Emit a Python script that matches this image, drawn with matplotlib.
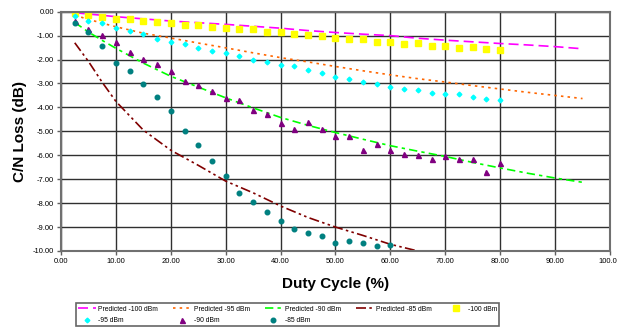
import numpy as np
import matplotlib
matplotlib.use('Agg')
import matplotlib.pyplot as plt
from matplotlib.ticker import FormatStrFormatter

plt.rcParams['font.family'] = ['Liberation Sans', 'DejaVu Sans']
plt.rcParams['axes.unicode_minus'] = False

#MEASURED DATA (duty cycle in %, C/N loss in dB)
duty = [2.5, 5, 7.5, 10, 12.5, 15, 17.5, 20, 22.5, 25, 27.5, 30, 32.5, 35, 37.5, 40,
        42.5, 45, 47.5, 50, 52.5, 55, 57.5, 60, 62.5, 65, 67.5, 70, 72.5, 75, 77.5, 80]
loss_100 = [-0.07, -0.14, -0.21, -0.29, -0.30, -0.37, -0.43, -0.48, -0.54, -0.57, -0.64, -0.68,
            -0.72, -0.73, -0.83, -0.86, -0.93, -0.96, -1.00, -1.10, -1.15, -1.14, -1.25, -1.28,
            -1.33, -1.32, -1.42, -1.44, -1.51, -1.48, -1.55, -1.61]
loss_95 = [-0.17, -0.37, -0.48, -0.67, -0.80, -0.94, -1.14, -1.28, -1.36, -1.50, -1.64, -1.73,
           -1.86, -2.00, -2.10, -2.22, -2.29, -2.43, -2.58, -2.72, -2.82, -2.92, -3.03, -3.14,
           -3.23, -3.29, -3.39, -3.43, -3.43, -3.57, -3.65, -3.68]
loss_90 = [-0.37, -0.73, -0.96, -1.28, -1.67, -1.98, -2.19, -2.48, -2.89, -3.08, -3.33, -3.60,
           -3.71, -4.12, -4.28, -4.65, -4.90, -4.61, -4.90, -5.21, -5.21, -5.76, -5.51, -5.76,
           -5.93, -5.98, -6.15, -6.01, -6.15, -6.15, -6.68, -6.32]
duty_85 = duty[:24]
loss_85 = [-0.46, -0.86, -1.42, -2.15, -2.47, -3.01, -3.57, -4.15, -4.97, -5.58, -6.26, -6.87,
           -7.58, -7.97, -8.39, -8.75, -9.07, -9.23, -9.37, -9.67, -9.60, -9.67, -9.78, -9.75]

#PREDICTED CURVES
pred_x = [2.5, 5, 7.5, 10, 15, 20, 25, 30, 35, 40, 45, 50, 55, 60, 65, 70, 75, 80, 85, 90, 95]
pred_100 = [-0.04, -0.10, -0.15, -0.21, -0.30, -0.39, -0.46, -0.53, -0.61, -0.69, -0.79, -0.87,
            -0.94, -1.00, -1.11, -1.19, -1.26, -1.33, -1.39, -1.46, -1.55]
pred_95 = [-0.15, -0.32, -0.48, -0.63, -0.90, -1.10, -1.31, -1.51, -1.72, -1.92, -2.10, -2.29,
           -2.47, -2.64, -2.80, -2.94, -3.09, -3.23, -3.37, -3.50, -3.63]
pred_90 = [-0.45, -0.85, -1.20, -1.53, -2.15, -2.70, -3.15, -3.60, -4.02, -4.42, -4.75, -5.05,
           -5.33, -5.60, -5.83, -6.05, -6.30, -6.53, -6.75, -6.95, -7.13]
pred_85_x = [2.5, 5, 7.5, 10, 15, 20, 25, 30, 35, 40, 45, 50, 55, 60, 65, 70, 73]
pred_85 = [-1.30, -2.08, -2.95, -3.75, -4.95, -5.79, -6.42, -7.08, -7.57, -8.12, -8.60, -9.00,
           -9.35, -9.72, -10.0, -10.3, -10.45]

fig = plt.figure(figsize=(6.17, 3.31), dpi=100)
ax = fig.add_axes([0.0989, 0.2417, 0.8897, 0.7230])

h_p100, = ax.plot(pred_x, pred_100, color='#FF00FF', lw=1.2, dashes=(6, 3), label='Predicted -100 dBm')
h_p95, = ax.plot(pred_x, pred_95, color='#FF6600', lw=1.2, dashes=(1.5, 2.5), label='Predicted -95 dBm')
h_p90, = ax.plot(pred_x, pred_90, color='#00FF00', lw=1.2, dashes=(5, 2.5, 2, 2.5), label='Predicted -90 dBm')
h_p85, = ax.plot(pred_85_x, pred_85, color='#800000', lw=1.2, dashes=(6, 2, 1.5, 2, 1.5, 2), label='Predicted -85 dBm')

h_100, = ax.plot(duty, loss_100, ls='none', marker='s', ms=3.8, color='#FFFF00', mec='#FFFF00', label='-100 dBm')
h_95, = ax.plot(duty, loss_95, ls='none', marker='D', ms=2.4, color='#00FFFF', mec='#00FFFF', label='-95 dBm')
h_90, = ax.plot(duty, loss_90, ls='none', marker='^', ms=3.6, color='#800080', mec='#800080', label='-90 dBm')
h_85, = ax.plot(duty_85, loss_85, ls='none', marker='o', ms=3.3, color='#008080', mec='#008080', label='-85 dBm')

ax.set_xlim(0, 100)
ax.set_ylim(-10, 0)
ax.set_xticks(np.arange(0, 101, 10))
ax.set_yticks(np.arange(-10, 0.1, 1))
ax.xaxis.set_major_formatter(FormatStrFormatter('%.2f'))
ax.yaxis.set_major_formatter(FormatStrFormatter('%.2f'))
ax.tick_params(labelsize=5.5, length=3, width=1, color='#606060', pad=2)
ax.grid(True, color='#303030', lw=1)
ax.set_axisbelow(True)
for s in ax.spines.values():
    s.set_color('#707070')
    s.set_linewidth(1.5)

ax.set_xlabel('Duty Cycle (%)', fontsize=11, fontweight='bold', labelpad=9)
ax.set_ylabel('C/N Loss (dB)', fontsize=11, fontweight='bold', labelpad=4)

#order handles so the legend reads row by row like the original
handles = [h_p100, h_95, h_p95, h_90, h_p90, h_85, h_p85, h_100]
leg = fig.legend(handles=handles, labels=[h.get_label() for h in handles], ncol=5,
                 loc='lower left', bbox_to_anchor=(0.117, 0.004, 0.698, 0.085), mode='expand',
                 fontsize=4.9, frameon=True, fancybox=False, handlelength=2.6, handletextpad=0.4,
                 borderpad=0.35, labelspacing=0.6, columnspacing=0.5)
leg.get_frame().set_edgecolor('#404040')
leg.get_frame().set_linewidth(1.2)

fig.savefig('out.png', dpi=100)
